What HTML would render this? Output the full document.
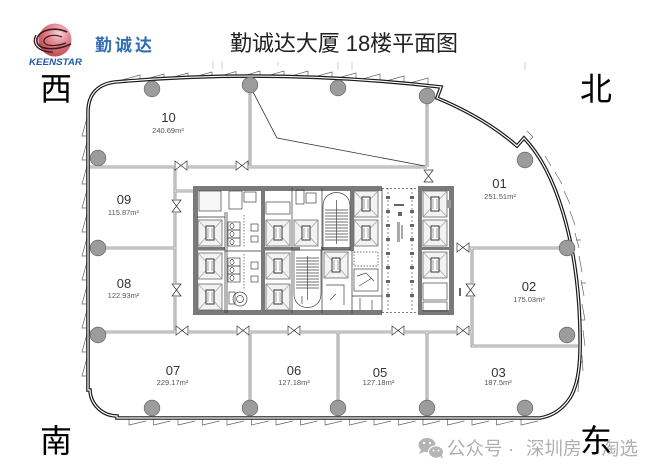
<!DOCTYPE html>
<html><head><meta charset="utf-8">
<style>
html,body{margin:0;padding:0;background:#fff;}
svg{display:block;}
text{font-family:"Liberation Sans","Noto Sans CJK SC",sans-serif;}
.cjk{font-family:"Liberation Sans","Noto Sans CJK SC",sans-serif;}
</style></head><body>
<svg width="659" height="475" viewBox="0 0 659 475" xmlns="http://www.w3.org/2000/svg">
<defs>
<radialGradient id="sph" cx="0.62" cy="0.3" r="0.8">
<stop offset="0" stop-color="#f6d2d6"/>
<stop offset="0.45" stop-color="#e08088"/>
<stop offset="1" stop-color="#b83a44"/>
</radialGradient>
<path id="outline" d="M88 390 L88 112 C88 94 98 84 115 82 Q275 68 441 87 L437 98 Q485 118 517 146 L524 138 C555 170 578 240 580 330 C581 365 578 385 570 398 C562 410 552 416 540 418 L117 418 L117 416 A27 27 0 0 1 90 390 Z"/>
<path id="inner" d="M88 167 H427 M250 86 V167 M427 97 V167 M175 167 V332 M88 248 H175 M88 332 H472 M250 332 V408 M338 332 V408 M427 332 V408 M457 248 H563 M472 248 V346 H578 M454 332 H472 M175 191 H193"/>
<g id="elev">
<rect x="0" y="0" width="24" height="26" fill="#f3f3f3" stroke="#666" stroke-width=".8"/>
<path d="M0 0 L24 26 M24 0 L0 26" stroke="#9a9a9a" stroke-width=".6"/>
<rect x="8" y="6" width="8" height="14" fill="#fff" stroke="#333" stroke-width="1"/>
<path d="M10 8 V18 M14 8 V18" stroke="#666" stroke-width=".6"/>
</g>
<g id="doorH">
<rect x="-7" y="-2" width="14" height="4" fill="#fff"/>
<path d="M-6 -6 L0 -1.5 L-6 3 Z M6 -6 L0 -1.5 L6 3 Z" fill="#fff" stroke="#333" stroke-width=".7"/>
</g>
</defs>
<rect width="659" height="475" fill="#fff"/>

<!-- logo -->
<circle cx="55" cy="40" r="16.5" fill="url(#sph)"/>
<path d="M67 32 C52 25 35 32 37 42 C39 50 56 51 71 44" fill="none" stroke="#3b1a22" stroke-width="1.6"/>
<path d="M62 37 C52 33 43 37 44 42 C45 46 55 47 66 43" fill="none" stroke="#3b1a22" stroke-width="1.2"/>
<path d="M36 35 C31 44 38 52 53 52" fill="none" stroke="#3b1a22" stroke-width="1.3"/>
<text x="29" y="65" font-size="9.5" font-weight="bold" font-style="italic" fill="#1e5aa8" textLength="53" lengthAdjust="spacingAndGlyphs">KEENSTAR</text>
<text x="95" y="51" font-size="17" font-weight="bold" fill="#2f6db3" letter-spacing="3" class="cjk">勤诚达</text>

<!-- title -->
<text x="230" y="51" font-size="22" fill="#222" textLength="228" lengthAdjust="spacing" class="cjk">勤诚达大厦 18楼平面图</text>

<!-- directions -->
<text x="40" y="100" font-size="32" fill="#000" class="cjk">西</text>
<text x="580" y="100" font-size="32" fill="#000" class="cjk">北</text>
<text x="40" y="452" font-size="32" fill="#000" class="cjk">南</text>

<!-- faint ticks -->
<g stroke="#bbb" stroke-width=".7">
<path d="M213 61 V69 M222 61 V69 M338 62 V70 M352 62 V70 M525 62 V70 M278 62 V66"/>
</g>

<!-- window fins top -->
<g fill="none" stroke="#666" stroke-width=".7">
<path d="M122 80 L140 75 L140 79"/>
<path d="M146 79 L164 74 L164 78"/>
<path d="M170 78 L188 73 L188 77.5"/>
<path d="M194 77 L212 72 L212 77"/>
<path d="M218 76.8 L236 71.5 L236 76.5"/>
<path d="M242 76.4 L260 71 L260 76.3"/>
<path d="M266 76.3 L284 71 L284 76.3"/>
<path d="M290 76.4 L308 71 L308 76.6"/>
<path d="M314 77 L332 72 L332 77.4"/>
<path d="M338 78 L356 73 L356 78.6"/>
<path d="M362 79.2 L380 74 L380 80"/>
<path d="M386 81 L404 76 L404 82"/>
<path d="M410 83 L428 78 L428 84.5"/>
</g>
<!-- left fins -->
<g fill="none" stroke="#666" stroke-width=".7">
<path d="M87 118 L82 136 L86 136"/>
<path d="M87 142 L82 160 L86 160"/>
<path d="M87 166 L82 184 L86 184"/>
<path d="M87 190 L82 208 L86 208"/>
<path d="M87 214 L82 232 L86 232"/>
<path d="M87 238 L82 256 L86 256"/>
<path d="M87 262 L82 280 L86 280"/>
<path d="M87 286 L82 304 L86 304"/>
<path d="M87 310 L82 328 L86 328"/>
<path d="M87 334 L82 352 L86 352"/>
<path d="M87 358 L82 376 L86 376"/>
</g>
<!-- bottom fins -->
<g fill="none" stroke="#666" stroke-width=".7">
<path d="M129 419 V425 L146 421"/>
<path d="M153.5 419 V425 L170.5 421"/>
<path d="M178 419 V425 L195 421"/>
<path d="M202.5 419 V425 L219.5 421"/>
<path d="M227 419 V425 L244 421"/>
<path d="M251.5 419 V425 L268.5 421"/>
<path d="M276 419 V425 L293 421"/>
<path d="M300.5 419 V425 L317.5 421"/>
<path d="M325 419 V425 L342 421"/>
<path d="M349.5 419 V425 L366.5 421"/>
<path d="M374 419 V425 L391 421"/>
<path d="M398.5 419 V425 L415.5 421"/>
<path d="M423 419 V425 L440 421"/>
<path d="M447.5 419 V425 L464.5 421"/>
<path d="M472 419 V425 L489 421"/>
<path d="M496.5 419 V425 L513.5 421"/>
<path d="M521 419 V425 L538 421"/>
</g>
<!-- right fins -->
<g fill="none" stroke="#666" stroke-width=".7">
<path d="M527 131 L533 137 L530 140"/>
<path d="M545 156 L551 166"/>
<path d="M555 172 L562 184"/>
<path d="M564 191 L570 204"/>
<path d="M570 211 L575 225"/>
<path d="M575 233 L579 248"/>
<path d="M579 256 L582 272"/>
<path d="M581 280 L584 296"/>
<path d="M582 304 L585 320"/>
<path d="M583 330 L585 346"/>
<path d="M582 355 L583 371"/>
<path d="M579 378 L578 392"/>
<path d="M578 362 h5 M580 320 h5 M581 283 h5 M576 240 h5"/>
</g>

<!-- interior walls -->
<use href="#inner" fill="none" stroke="#8a8a8a" stroke-width="2.8"/>
<use href="#inner" fill="none" stroke="#fff" stroke-width=".9"/>
<path d="M253 92 L277 138 L425 166" fill="none" stroke="#333" stroke-width=".8"/>

<!-- outer wall -->
<use href="#outline" fill="none" stroke="#1a1a1a" stroke-width="3.6"/>
<use href="#outline" fill="none" stroke="#fff" stroke-width="1.2"/>

<!-- columns -->
<g fill="#9c9c9c" stroke="#6e6e6e" stroke-width=".8">
<circle cx="152" cy="89" r="7.8"/>
<circle cx="250" cy="85" r="7.8"/>
<circle cx="338" cy="88" r="7.8"/>
<circle cx="427" cy="96" r="7.8"/>
<circle cx="525" cy="160" r="7.8"/>
<circle cx="567" cy="248" r="7.8"/>
<circle cx="567" cy="335" r="7.8"/>
<circle cx="98" cy="158" r="7.8"/>
<circle cx="98" cy="248" r="7.8"/>
<circle cx="98" cy="335" r="7.8"/>
<circle cx="152" cy="408" r="7.8"/>
<circle cx="250" cy="408" r="7.8"/>
<circle cx="338" cy="408" r="7.8"/>
<circle cx="427" cy="408" r="7.8"/>
<circle cx="525" cy="408" r="7.8"/>
</g>

<!-- doors -->
<use href="#doorH" x="181" y="167"/>
<use href="#doorH" x="242" y="167"/>
<use href="#doorH" x="182" y="332"/>
<use href="#doorH" x="243" y="332"/>
<use href="#doorH" x="294" y="332"/>
<use href="#doorH" x="398" y="332"/>
<use href="#doorH" x="463" y="332"/>
<use href="#doorH" x="463" y="249"/>
<use href="#doorH" transform="translate(175 206) rotate(90)"/>
<use href="#doorH" transform="translate(175 290) rotate(90)"/>
<use href="#doorH" transform="translate(472 290) rotate(-90)"/>
<use href="#doorH" transform="translate(427 176) rotate(90)"/>

<!-- core -->
<rect x="195.5" y="188.5" width="256" height="124" fill="#fff" stroke="#7a7a7a" stroke-width="5"/>
<rect x="382" y="185" width="36" height="7" fill="#fff"/>
<rect x="382" y="309" width="36" height="7" fill="#fff"/>
<path d="M382 188.5 H418 M382 312.5 H418" stroke="#555" stroke-width=".8" stroke-dasharray="2 2"/>
<g fill="#7a7a7a">
<rect x="261" y="188" width="4" height="125"/>
<rect x="350" y="188" width="4" height="63"/>
<rect x="418" y="188" width="4" height="125"/>
<rect x="197" y="247" width="28" height="3.5"/>
<rect x="263" y="247" width="37" height="3.5"/>
<rect x="321" y="247" width="31" height="3.5"/>
<rect x="420" y="247" width="30" height="3"/>
</g>
<g stroke="#333" stroke-width=".7" fill="none">
<path d="M225 212 V313 M227 212 V313 M292 188 V313 M322 188 V313 M352 250 V313 M197 217 H225 M225 251 H261 M352 296 H382 M382 188 V313"/>
<path d="M388 188 V313 M412 188 V313" stroke-dasharray="2 2" stroke="#555"/>
</g>
<!-- elevators -->
<use href="#elev" x="198" y="220"/>
<use href="#elev" x="198" y="253"/>
<use href="#elev" x="198" y="284"/>
<use href="#elev" x="266" y="220"/>
<use href="#elev" x="266" y="253"/>
<use href="#elev" x="266" y="284"/>
<use href="#elev" x="294" y="220"/>
<use href="#elev" x="324" y="252"/>
<use href="#elev" x="354" y="191"/>
<use href="#elev" x="354" y="220"/>
<use href="#elev" x="423" y="191"/>
<use href="#elev" x="423" y="220"/>
<use href="#elev" x="423" y="252"/>
<!-- misc core boxes -->
<g fill="none" stroke="#444" stroke-width=".7">
<rect x="199" y="191" width="22" height="20" fill="#f7f7f7"/>
<rect x="266" y="202" width="24" height="12"/>
<rect x="354" y="252" width="24" height="14" stroke-dasharray="1.5 1.5"/>
<rect x="354" y="269" width="24" height="22"/>
<path d="M357 276 L366 273 L374 281 M359 286 L372 278"/>
<rect x="423" y="283" width="24" height="17"/>
<rect x="423" y="302" width="24" height="9"/>
<rect x="229" y="191" width="13" height="18"/>
<rect x="244" y="192" width="12" height="10"/>
<rect x="296" y="190" width="8" height="14"/>
<rect x="306" y="193" width="10" height="10"/>
<rect x="228" y="222" width="12" height="8"/>
<rect x="228" y="230" width="12" height="8"/>
<rect x="228" y="238" width="12" height="8"/>
<rect x="228" y="258" width="12" height="8"/>
<rect x="228" y="266" width="12" height="8"/>
<rect x="228" y="274" width="12" height="8"/>
<ellipse cx="232" cy="226" rx="2" ry="2.5"/>
<ellipse cx="232" cy="234" rx="2" ry="2.5"/>
<ellipse cx="232" cy="242" rx="2" ry="2.5"/>
<ellipse cx="232" cy="262" rx="2" ry="2.5"/>
<ellipse cx="232" cy="270" rx="2" ry="2.5"/>
<ellipse cx="232" cy="278" rx="2" ry="2.5"/>
<rect x="251" y="224" width="7" height="7"/>
<rect x="251" y="236" width="7" height="6"/>
<rect x="251" y="262" width="7" height="7"/>
<rect x="251" y="276" width="7" height="6"/>
<circle cx="240" cy="299" r="7"/>
<circle cx="240" cy="299" r="3.5"/>
<rect x="229" y="292" width="6" height="12"/>
<path d="M244 215 V248 M244 254 V290" stroke-dasharray="1.5 1.5"/>
<path d="M294 250 H321 V294 C321 312 294 312 294 294 Z"/>
<path d="M323 250 H350 V206 C350 188 323 188 323 206 Z"/>
<path d="M307.5 256 V300 M336.5 200 V244"/>
<path d="M296 258 H319 M296 261 H319 M296 264 H319 M296 267 H319 M296 270 H319 M296 273 H319 M296 276 H319 M296 279 H319 M296 282 H319 M296 285 H319 M296 288 H319"/>
<path d="M325 210 H348 M325 213 H348 M325 216 H348 M325 219 H348 M325 222 H348 M325 225 H348 M325 228 H348 M325 231 H348 M325 234 H348 M325 237 H348 M325 240 H348"/>
<path d="M326 285 h18 v20 M330 300 l6 -6 M360 298 v12 M372 300 v10 M302 296 v8"/>
</g>
<!-- corridor marks -->
<g fill="#666">
<rect x="386" y="196" width="4" height="3"/><rect x="386" y="210" width="4" height="3"/><rect x="386" y="224" width="4" height="3"/>
<rect x="386" y="238" width="4" height="3"/><rect x="386" y="252" width="4" height="3"/><rect x="386" y="266" width="4" height="3"/>
<rect x="386" y="280" width="4" height="3"/><rect x="386" y="294" width="4" height="3"/>
<rect x="410" y="196" width="4" height="3"/><rect x="410" y="210" width="4" height="3"/><rect x="410" y="224" width="4" height="3"/>
<rect x="410" y="238" width="4" height="3"/><rect x="410" y="252" width="4" height="3"/><rect x="410" y="266" width="4" height="3"/>
<rect x="410" y="280" width="4" height="3"/><rect x="410" y="294" width="4" height="3"/>
<rect x="397" y="222" width="3" height="20" fill="#aaa"/>
<rect x="401" y="225" width="2" height="14" fill="#aaa"/>
<rect x="398" y="212" width="4" height="4"/>
<rect x="394" y="204" width="10" height="2"/>
<rect x="447" y="200" width="4" height="8" fill="#999"/>
<rect x="459" y="288" width="2" height="8"/>
</g>

<!-- room labels -->
<g fill="#333" text-anchor="middle">
<text x="168.5" y="122" font-size="13">10</text>
<text x="124" y="204" font-size="13">09</text>
<text x="124" y="288" font-size="13">08</text>
<text x="173" y="375" font-size="13">07</text>
<text x="294" y="375" font-size="13">06</text>
<text x="380" y="377" font-size="13">05</text>
<text x="498.5" y="377" font-size="13">03</text>
<text x="499.5" y="188" font-size="13">01</text>
<text x="529" y="291" font-size="13">02</text>
</g>
<g fill="#555" text-anchor="middle" font-size="7.5">
<text x="168" y="133">240.69m²</text>
<text x="123.5" y="215">115.87m²</text>
<text x="123.5" y="298">122.93m²</text>
<text x="172.5" y="385">229.17m²</text>
<text x="294" y="385">127.18m²</text>
<text x="378.5" y="385">127.18m²</text>
<text x="498" y="385">187.5m²</text>
<text x="500" y="199">251.51m²</text>
<text x="529" y="302">175.03m²</text>
</g>

<!-- watermark -->
<g fill="#b4b4b4">
<ellipse cx="427" cy="445" rx="8.5" ry="7"/>
<ellipse cx="436" cy="452" rx="7.5" ry="6.2" stroke="#fff" stroke-width="1.2"/>
<path d="M421 450 l-2 4 l5 -2 Z"/>
<path d="M440 456 l3 3 l-1 -5 Z"/>
</g>
<g fill="#fff">
<circle cx="424" cy="443" r="1.1"/><circle cx="430" cy="443" r="1.1"/>
<circle cx="433.5" cy="450.5" r="1"/><circle cx="438.5" cy="450.5" r="1"/>
</g>
<g fill="#b0b0b0" font-size="18.5" class="cjk">
<text x="447" y="455">公众号</text>
<text x="508" y="455">·</text>
<text x="526" y="455">深圳房</text>
<text x="601" y="455">淘选</text>
</g>
<text x="580" y="452" font-size="32" fill="#000" class="cjk">东</text>
</svg>
</body></html>
